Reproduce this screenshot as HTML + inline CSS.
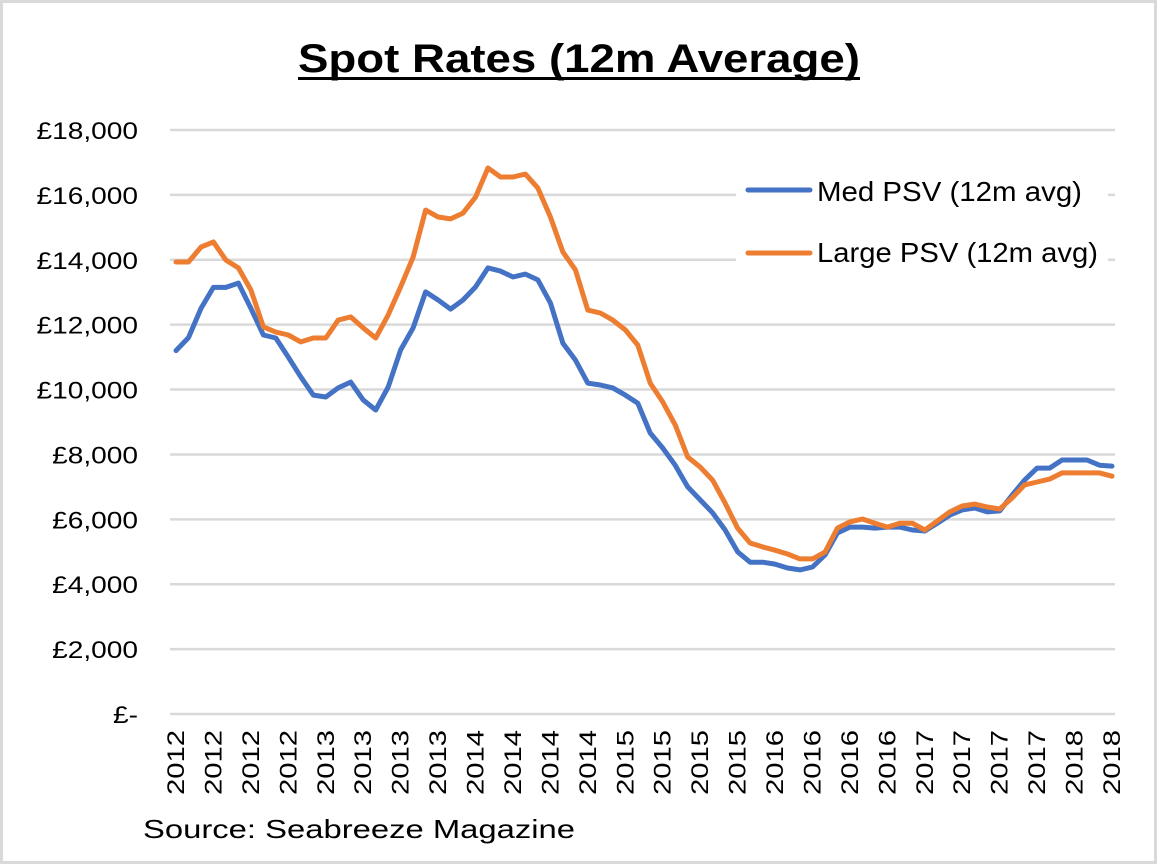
<!DOCTYPE html>
<html><head><meta charset="utf-8"><style>
html,body{margin:0;padding:0;background:#fff}
svg{display:block;font-family:"Liberation Sans",Arial,sans-serif}
</style></head><body>
<svg id="chart" width="1157" height="864" viewBox="0 0 1157 864" xmlns="http://www.w3.org/2000/svg">
<rect x="1.5" y="1.5" width="1154" height="861" fill="#fff" stroke="#d9d9d9" stroke-width="3"/>
<text x="579" y="72" text-anchor="middle" font-size="40" font-weight="bold" textLength="562" lengthAdjust="spacingAndGlyphs">Spot Rates (12m Average)</text>
<rect x="298" y="77" width="562" height="3" fill="#000"/>
<g id="grid"></g>
<g id="ylabels"></g>
<g id="xlabels"></g>
<rect x="736" y="160" width="372" height="120" fill="#fff"/>
<g id="series"></g>
<g>
<line x1="748" y1="190" x2="810" y2="190" stroke="#4472c4" stroke-width="5" stroke-linecap="round"/>
<text x="817" y="201" font-size="28" textLength="265" lengthAdjust="spacingAndGlyphs">Med PSV (12m avg)</text>
<line x1="748" y1="253" x2="810" y2="253" stroke="#ed7d31" stroke-width="5" stroke-linecap="round"/>
<text x="817" y="262" font-size="28" textLength="281" lengthAdjust="spacingAndGlyphs">Large PSV (12m avg)</text>
</g>
<text x="143" y="838" font-size="26" textLength="432" lengthAdjust="spacingAndGlyphs">Source: Seabreeze Magazine</text>
</svg>
<script>
const yTicks = [0,2000,4000,6000,8000,10000,12000,14000,16000,18000];
const yTickLabels = ["£-","£2,000","£4,000","£6,000","£8,000","£10,000","£12,000","£14,000","£16,000","£18,000"];
const xTickLabels = ["2012","2012","2012","2012","2013","2013","2013","2013","2014","2014","2014","2014","2015","2015","2015","2015","2016","2016","2016","2016","2017","2017","2017","2017","2018","2018"];
const medPSV = [11200,11600,12500,13150,13150,13280,12500,11680,11590,11000,10390,9830,9770,10050,10230,9680,9370,10080,11220,11900,13010,12760,12480,12760,13160,13750,13650,13470,13560,13380,12670,11430,10910,10200,10140,10050,9830,9580,8660,8200,7670,7000,6600,6200,5670,5000,4680,4680,4620,4500,4440,4530,4900,5580,5760,5760,5730,5760,5760,5670,5640,5880,6130,6290,6350,6230,6260,6750,7210,7580,7580,7830,7830,7830,7670,7640];
const largePSV = [13930,13930,14390,14550,13990,13750,13070,11930,11770,11680,11470,11590,11590,12140,12240,11900,11590,12300,13160,14080,15530,15320,15260,15440,15930,16830,16550,16550,16640,16210,15320,14240,13690,12450,12360,12140,11840,11370,10200,9620,8910,7920,7610,7210,6500,5730,5270,5150,5050,4930,4780,4780,4990,5730,5920,6010,5880,5760,5880,5880,5670,5950,6230,6410,6470,6380,6320,6660,7060,7150,7240,7430,7430,7430,7430,7330];

const NS="http://www.w3.org/2000/svg";
const plotL=170, plotR=1115, yTop=130, yBot=714, yMax=18000;
const n=medPSV.length;
const xFirst=176, xLast=1112;
function xScale(i){return xFirst+(xLast-xFirst)*i/(n-1);}
function yScale(v){return yBot-(v/yMax)*(yBot-yTop);}
function mk(tag,attrs,parent){const e=document.createElementNS(NS,tag);for(const k in attrs)e.setAttribute(k,attrs[k]);parent.appendChild(e);return e;}

const grid=document.getElementById('grid');
const yl=document.getElementById('ylabels');
yTicks.forEach((t,i)=>{
  const y=yScale(t);
  const ln=mk('line',{x1:plotL,x2:plotR,y1:y,y2:y,stroke:'#d9d9d9','stroke-width':2.5},grid);
  
  
  const tx=mk('text',{x:138,y:y+9,'text-anchor':'end','font-size':24},yl);
  
  
  tx.textContent=yTickLabels[i];
  const w=tx.getComputedTextLength();
  if(w>0){tx.setAttribute('textLength',(w*1.17).toFixed(1));tx.setAttribute('lengthAdjust','spacingAndGlyphs');}
});
const xl=document.getElementById('xlabels');
xTickLabels.forEach((lab,k)=>{
  const x=xScale(k*3);
  const tx=mk('text',{transform:`translate(${x+8},730) rotate(-90)`,'text-anchor':'end','font-size':24,textLength:65,lengthAdjust:'spacingAndGlyphs'},xl);
  
  
  tx.textContent=lab;
});
const sg=document.getElementById('series');
function drawLine(vals,color,name){
  const d=vals.map((v,i)=>(i?'L':'M')+xScale(i).toFixed(1)+' '+yScale(v).toFixed(1)).join(' ');
  const p=mk('path',{d:d,fill:'none',stroke:color,'stroke-width':5,'stroke-linejoin':'round','stroke-linecap':'round'},sg);
  
  
}
drawLine(medPSV,'#4472c4','med-psv-line');
drawLine(largePSV,'#ed7d31','large-psv-line');
</script>
</body></html>
